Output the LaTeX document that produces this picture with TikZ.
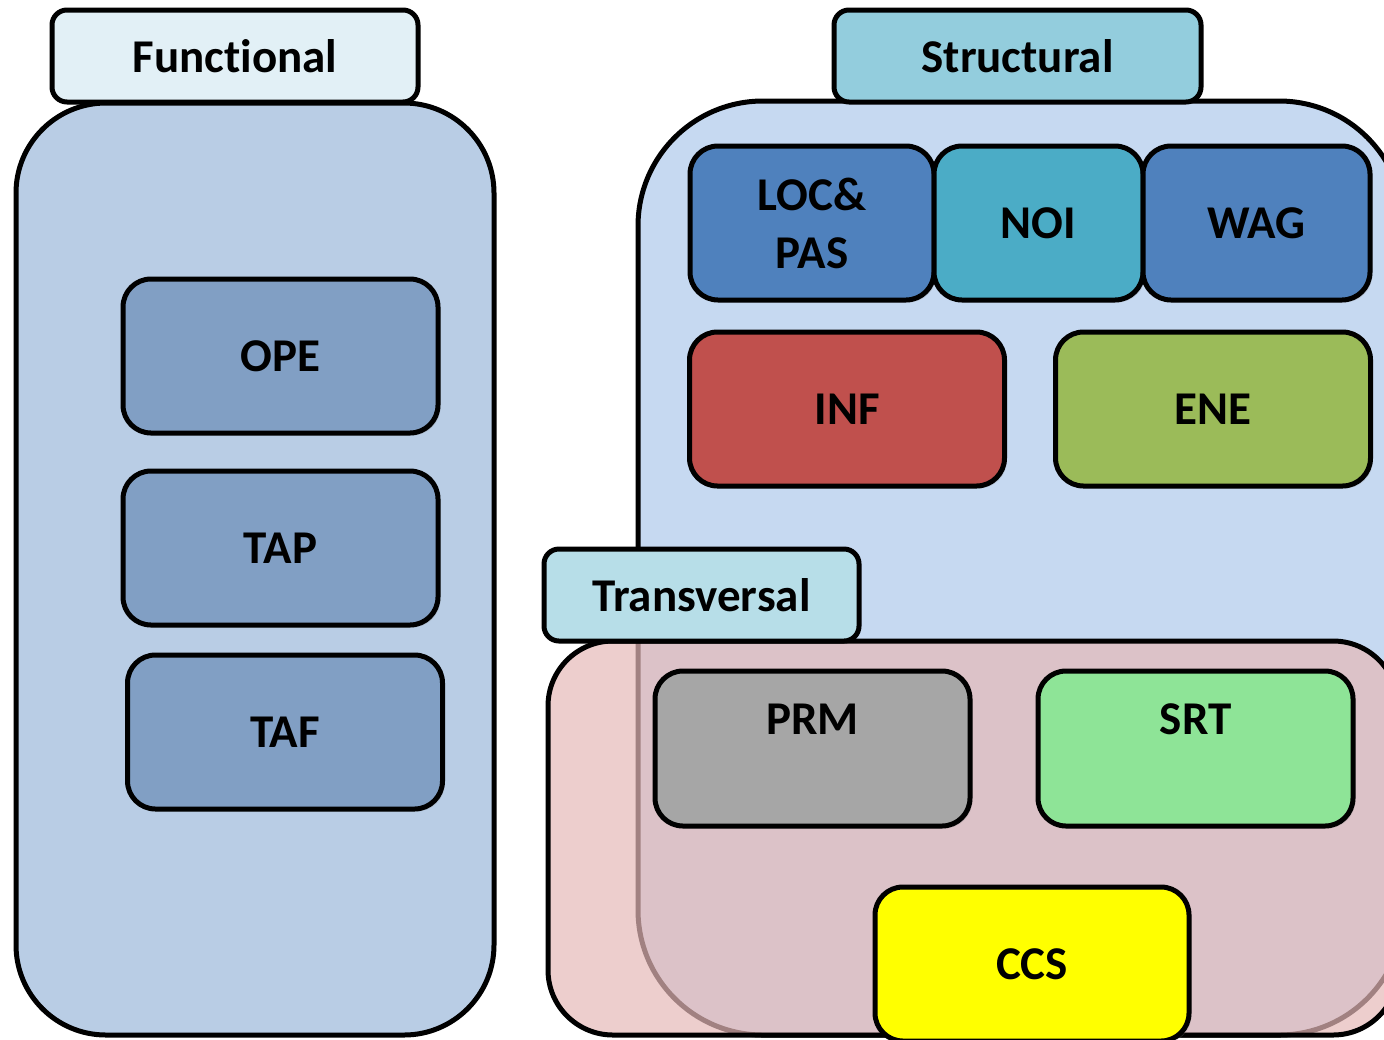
\documentclass[tikz,border=0pt]{standalone}
\usepackage{fontspec}
\setmainfont[Ligatures=NoCommon]{Carlito}
\usepackage{tikz}
\usetikzlibrary{calc,shadows,positioning}

\definecolor{functab}{HTML}{E2F0F6}
\definecolor{funcbg}{HTML}{B9CDE5}
\definecolor{funcitem}{HTML}{819FC4}
\definecolor{structab}{HTML}{93CDDD}
\definecolor{strucbg}{HTML}{C6D9F1}
\definecolor{blueitem}{HTML}{4F81BD}
\definecolor{aquaitem}{HTML}{4BACC6}
\definecolor{reditem}{HTML}{C0504D}
\definecolor{greenitem}{HTML}{9BBB59}
\definecolor{transtab}{HTML}{B7DEE8}
\definecolor{transbg}{HTML}{E6B9B8}
\definecolor{grayitem}{HTML}{A6A6A6}
\definecolor{lightgreen}{HTML}{8EE497}
\definecolor{yellowitem}{HTML}{FFFF00}

\begin{document}
\begin{tikzpicture}[x=0.5pt,y=-0.5pt,
	font=\fontsize{23.5}{29}\selectfont\bfseries,
	outline/.style={draw=black, line width=2.5pt},
	tab/.style={outline, rounded corners=7.5pt, minimum height=46pt, inner sep=0pt},
	group/.style={outline, inner sep=0pt},
	item/.style={outline, rounded corners=14pt, minimum width=157.5pt, minimum height=77pt, inner sep=0pt, align=center,
		drop shadow={shadow xshift=1.2pt, shadow yshift=-1.2pt, opacity=0.25}},
	toplabel/.style={label={[anchor=center, yshift=-25.5pt]north:#1}}]
						\clip (0,0) rectangle (1384,1039);

						% functional
						\node[group, fill=funcbg, rounded corners=45pt, minimum width=239pt, minimum height=466pt] (funcbox) at (255,569) {};
						\node[tab, fill=functab, minimum width=183pt] (functab) at (235,56) {Functional};
						\node[item, fill=funcitem] (ope) at (280.5,356) {OPE};
						\node[item, fill=funcitem] (tap) at (280.5,548) {TAP};
						\node[item, fill=funcitem] (taf) at (285,732) {TAF};

						% structural
						\node[group, fill=strucbg, rounded corners=62.5pt, minimum width=383pt, minimum height=467pt] (strucbox) at (1021,568) {};
						\node[tab, fill=structab, minimum width=183.5pt] (structab) at (1017.5,56) {Structural};
						\node[item, fill=blueitem, minimum width=122pt] (locpas) at (812,223) {LOC\&\\PAS};
						\node[item, fill=aquaitem, minimum width=104.5pt] (noi) at (1038.5,223) {NOI};
						\node[item, fill=blueitem, minimum width=113.5pt] (wag) at (1256.5,223) {WAG};
						\node[item, fill=reditem] (inf) at (847,409) {INF};
						\node[item, fill=greenitem] (ene) at (1213,409) {ENE};

						% transversal
						\node[group, fill=transbg, fill opacity=0.7, rounded corners=32.5pt, minimum width=425pt, minimum height=197pt] (transbox) at (973,838) {};
						\node[tab, fill=transtab, minimum width=157.5pt] (transtab) at (701.5,595) {Transversal};
						\node[item, fill=grayitem, minimum height=77.5pt, toplabel=PRM] (prm) at (812.5,748.5) {};
						\node[item, fill=lightgreen, minimum height=77.5pt, toplabel=SRT] (srt) at (1195.5,748.5) {};
						\node[item, fill=yellowitem, minimum width=157pt] (ccs) at (1032,964) {CCS};
					\end{tikzpicture}
\end{document}
